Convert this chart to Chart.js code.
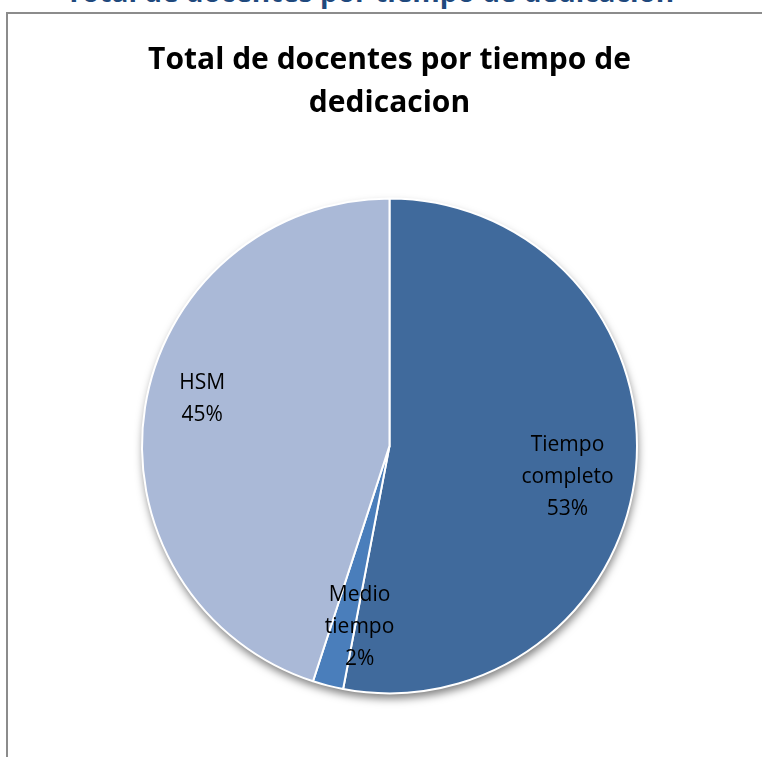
<!DOCTYPE html>
<html>
<head>
<meta charset="utf-8">
<script src="https://cdn.jsdelivr.net/npm/chart.js@4.4.0/dist/chart.umd.min.js"></script>
<style>
  body { margin: 0; background: #fff; overflow: hidden; }
  #wrap { position: relative; width: 762px; height: 757px; }
  #cut {
    position: absolute; left: 0; width: 740px; top: -28px;
    text-align: center; font: bold 28px "Open Sans", sans-serif; color: #1F497D;
    white-space: nowrap;
  }
  #frame {
    position: absolute; left: 6px; top: 12px; width: 800px; height: 800px;
    border-left: 2px solid #8c8c8c; border-top: 2px solid #8c8c8c;
  }
  canvas { position: absolute; left: 0; top: 0; }
</style>
</head>
<body>
<div id="wrap">
  <div id="cut">Total de docentes por tiempo de dedicacion</div>
  <div id="frame"></div>
  <canvas id="pieChart" width="762" height="757"></canvas>
</div>
<script>
// data
const labels = ["Tiempo completo", "Medio tiempo", "HSM"];
const labelLines = [["Tiempo", "completo"], ["Medio", "tiempo"], ["HSM"]];
const values = [53, 2, 45];
const colors = ["#406A9C", "#4A7EBB", "#AAB9D7"];

// label placement inside slices (angle shift in degrees, fraction of radius)
const labelPlace = [
  { da: 4.5, rf: 0.73 },
  { da: -5, rf: 0.74 },
  { da: 5, rf: 0.78 },
];

// shadow under the pie (drawn before the slices)
const pieShadow = {
  id: "pieShadow",
  beforeDatasetsDraw(chart) {
    const arc = chart.getDatasetMeta(0).data[0];
    if (!arc) return;
    const ctx = chart.ctx;
    ctx.save();
    ctx.shadowColor = "rgba(0,0,0,0.5)";
    ctx.shadowBlur = 8;
    ctx.shadowOffsetX = 1;
    ctx.shadowOffsetY = 5;
    ctx.fillStyle = "#fff";
    ctx.beginPath();
    ctx.arc(arc.x, arc.y, arc.outerRadius, 0, Math.PI * 2);
    ctx.fill();
    ctx.restore();
  },
};

// category name + percent inside each slice
const sliceLabels = {
  id: "sliceLabels",
  afterDatasetsDraw(chart) {
    const ctx = chart.ctx;
    const total = values.reduce((a, b) => a + b, 0);
    ctx.save();
    ctx.font = '21px "Open Sans", sans-serif';
    ctx.fillStyle = "#000";
    ctx.textAlign = "center";
    ctx.textBaseline = "middle";
    chart.getDatasetMeta(0).data.forEach((arc, i) => {
      const p = labelPlace[i];
      const mid = (arc.startAngle + arc.endAngle) / 2 + (p.da * Math.PI) / 180;
      const r = arc.outerRadius * p.rf;
      const cx = arc.x + Math.cos(mid) * r;
      const cy = arc.y + Math.sin(mid) * r;
      const lines = labelLines[i].concat(Math.round((values[i] / total) * 100) + "%");
      const lh = 32;
      const y0 = cy - ((lines.length - 1) * lh) / 2;
      lines.forEach((t, k) => ctx.fillText(t, cx, y0 + k * lh));
    });
    ctx.restore();
  },
};

new Chart(document.getElementById("pieChart"), {
  type: "pie",
  data: {
    labels: labels,
    datasets: [
      {
        data: values,
        backgroundColor: colors,
        borderColor: "#fff",
        borderWidth: 2,
      },
    ],
  },
  options: {
    responsive: false,
    animation: false,
    layout: {
      padding: { left: 141, right: 124, top: 0, bottom: 62 },
    },
    plugins: {
      legend: { display: false },
      tooltip: { enabled: false },
      title: {
        display: true,
        text: ["Total de docentes por tiempo de", "dedicacion"],
        color: "#000",
        font: { family: "Open Sans", size: 30, weight: "bold", lineHeight: 1.43 },
        padding: { top: 39, bottom: 72 },
      },
    },
  },
  plugins: [pieShadow, sliceLabels],
});
</script>
</body>
</html>
